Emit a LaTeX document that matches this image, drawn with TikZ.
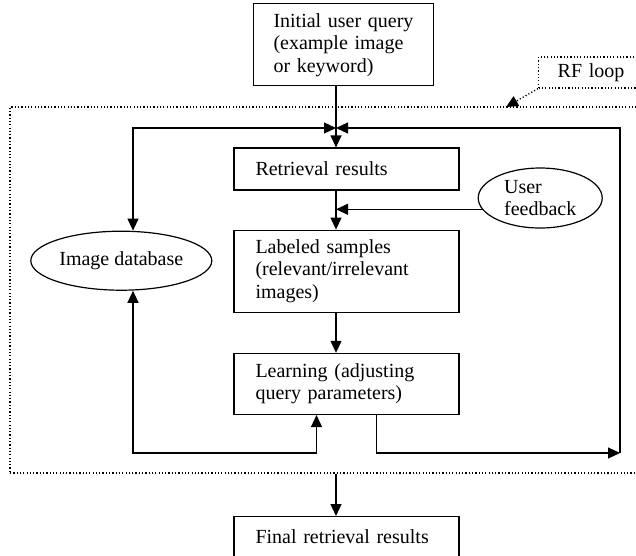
\documentclass[tikz,border=0pt]{standalone}
\usepackage{fontspec}
\setmainfont{Liberation Serif}
\usetikzlibrary{positioning, shapes.geometric, arrows.meta}

\begin{document}
\begin{tikzpicture}[x=1pt, y=1pt, line width=1.2pt, >={Triangle[length=12pt, width=11pt]},
  every node/.style={font=\fontsize{20}{22.5}\selectfont},
  box/.style={draw, rectangle, inner xsep=21.5pt, inner ysep=0pt, text width=182pt, align=left},
  oval/.style={draw, ellipse, inner sep=0pt, align=left},
  loopline/.style={dash pattern=on 1.2pt off 2.1pt, line width=1.3pt}]
  \useasboundingbox (0,0) rectangle (636,-555);
  \clip (0,0) rectangle (636,-555);

  % main column of the loop
  \node[box, minimum height=42pt] (retr) at (346.5,-169) {Retrieval results};
  \node[box, minimum height=82pt, below=39pt of retr] (samples) {Labeled samples\\(relevant/irrelevant\\images)};
  \node[box, minimum height=61pt, below=40pt of samples] (learn) {Learning (adjusting\\query parameters)};
  \node[box, minimum height=40pt, below=101pt of learn] (final) {Final retrieval results};
  \node[box, inner xsep=20pt, text width=140pt, minimum height=82pt, above=61pt of retr, xshift=-3pt] (query) {Initial user query\\(example image\\or keyword)};

  \node[oval, minimum width=181pt, minimum height=59pt, left=21pt of samples, yshift=10.5pt] (db) {Image database};
  \node[oval, minimum width=124pt, minimum height=60pt, right=18pt of retr, yshift=-29pt] (fb) {User\\feedback};

  % RF loop frame and its tag
  \node[draw, loopline, rectangle, minimum width=640pt, minimum height=366pt] (loop) at (330,-290) {};
  \node[draw, loopline, rectangle, anchor=west, minimum height=31pt, inner xsep=19pt, inner ysep=0pt, text width=90pt, align=left] (rf) at (538,-72.5) {RF loop};

  \coordinate (top) at (336,-128);
  \coordinate (lft) at (133,-128);
  \coordinate (rgt) at (620,-128);
  \coordinate (bl) at (133,-453);
  \coordinate (br) at (620,-453);
  \coordinate (rfhit) at (506,-107);

  \draw[->, loopline] (rf.south west) -- (rfhit);

  \draw (query.south -| top) -- (top);
  \draw[->] (top) -- (retr.north -| top);
  \draw[->] (retr.south -| top) -- (samples.north -| top);
  \draw[->] (fb.191) -- (fb.191 -| top);
  \draw[->] (samples.south -| top) -- (learn.north -| top);
  \draw[<->] (db.north -| lft) -- (lft) -- (top);
  \draw[<->] (db.south -| bl) -- (bl) -| ([xshift=-30pt]learn.south);
  \draw[->] ([xshift=30pt]learn.south) |- (br);
  \draw[->] (br) -- (rgt) -- (top);
  \draw[->] (loop.south -| top) -- (final.north -| top);
\end{tikzpicture}
\end{document}
